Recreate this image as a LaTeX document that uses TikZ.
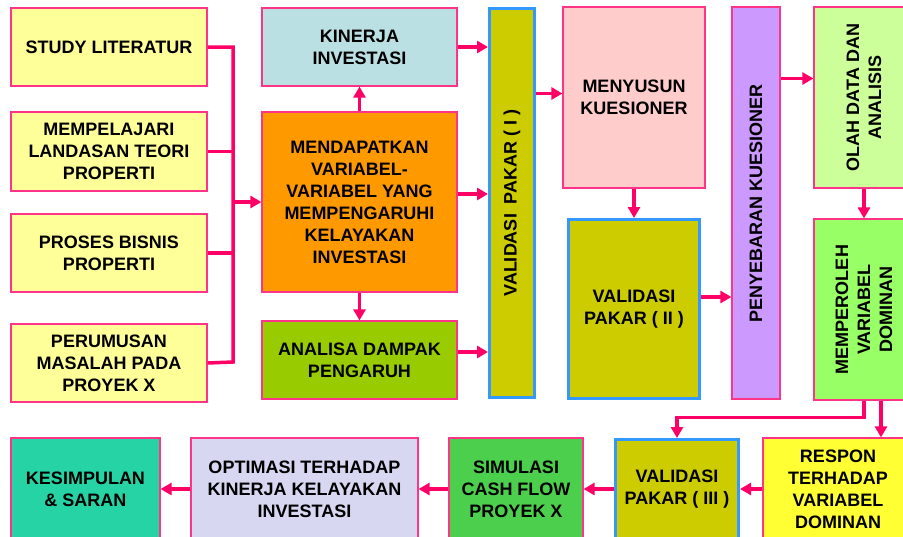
\documentclass[tikz,border=0pt]{standalone}
\usepackage{fontspec}
\setmainfont{Liberation Sans}
\usetikzlibrary{arrows.meta,calc}
\definecolor{cYel}{HTML}{FFFF99}
\definecolor{cKin}{HTML}{BBE0E3}
\definecolor{cOra}{HTML}{FF9900}
\definecolor{cAna}{HTML}{99CC00}
\definecolor{cVal}{HTML}{CCCC00}
\definecolor{cMen}{HTML}{FFCCCC}
\definecolor{cPen}{HTML}{CC99FF}
\definecolor{cOla}{HTML}{CCFF99}
\definecolor{cMem}{HTML}{99FF66}
\definecolor{cRes}{HTML}{FFFF33}
\definecolor{cSim}{HTML}{4CCF4C}
\definecolor{cOpt}{HTML}{D7D7F2}
\definecolor{cKes}{HTML}{26D3A5}
\definecolor{cBord}{HTML}{FF3388}
\definecolor{cBlue}{HTML}{3399FF}
\definecolor{cArr}{HTML}{FF0066}
\tikzset{
  box/.style={draw=cBord, line width=1.2pt, inner sep=0pt, align=center,
    font=\bfseries\fontsize{18}{22}\selectfont, text=black},
  vbox/.style={box, draw=cBlue, line width=3pt},
  rot/.style={rotate=90, inner sep=0pt, align=center,
    font=\bfseries\fontsize{18}{22}\selectfont, text=black},
  conn/.style={draw=cArr, line width=3.5pt, line join=miter},
  arr/.style={conn, -{Triangle[length=11pt,width=12pt]}}
}
\begin{document}
\begin{tikzpicture}[x=1pt,y=-1pt]
\useasboundingbox (0,0) rectangle (903,536);
\clip (0,0) rectangle (903,536);
\fill[white] (0,0) rectangle (903,536);

% left column
\node[box,fill=cYel,minimum width=196pt,minimum height=78pt] (study) at (109,47) {STUDY LITERATUR};
\node[box,fill=cYel,minimum width=196pt,minimum height=79pt] (mempel) at (109,151.5) {MEMPELAJARI\\LANDASAN TEORI\\PROPERTI};
\node[box,fill=cYel,minimum width=196pt,minimum height=78pt] (proses) at (109,253) {PROSES BISNIS\\PROPERTI};
\node[box,fill=cYel,minimum width=196pt,minimum height=78pt] (perumusan) at (109,363) {PERUMUSAN\\MASALAH PADA\\PROYEK X};

% second column
\node[box,fill=cKin,minimum width=195pt,minimum height=78pt] (kinerja) at (359.5,47) {KINERJA\\INVESTASI};
\node[box,fill=cOra,minimum width=195pt,minimum height=180pt] (mendapat) at (359.5,202) {MENDAPATKAN\\VARIABEL-\\VARIABEL YANG\\MEMPENGARUHI\\KELAYAKAN\\INVESTASI};
\node[box,fill=cAna,minimum width=195pt,minimum height=78pt] (analisa) at (359.5,360) {ANALISA DAMPAK\\PENGARUH};

% validasi I
\node[vbox,fill=cVal,minimum width=45pt,minimum height=389pt] (val1) at (512,203) {};
\node[rot] (val1t) at (val1) {VALIDASI\ \ PAKAR ( I )};

% menyusun / validasi II
\node[box,fill=cMen,minimum width=142pt,minimum height=181pt] (menyusun) at (634,97.5) {MENYUSUN\\KUESIONER};
\node[vbox,fill=cVal,minimum width=131pt,minimum height=179pt] (val2) at (634,309) {VALIDASI\\PAKAR ( II )};

% penyebaran
\node[box,fill=cPen,minimum width=48pt,minimum height=392pt] (penyeb) at (756,203) {};
\node[rot] (penyebt) at (penyeb) {PENYEBARAN KUESIONER};

% right column
\node[box,fill=cOla,minimum width=100pt,minimum height=181pt] (olah) at (864,97.5) {};
\node[rot] (olaht) at (olah) {OLAH DATA DAN\\ANALISIS};
\node[box,fill=cMem,minimum width=100pt,minimum height=181pt] (memper) at (864,309.5) {};
\node[rot] (mempert) at (memper) {MEMPEROLEH\\VARIABEL\\DOMINAN};

% bottom row
\node[box,fill=cKes,minimum width=149pt,minimum height=102pt] (kesimp) at (85.5,489) {KESIMPULAN\\\& SARAN};
\node[box,fill=cOpt,minimum width=227pt,minimum height=102pt] (optim) at (304.5,489) {OPTIMASI TERHADAP\\KINERJA KELAYAKAN\\INVESTASI};
\node[box,fill=cSim,minimum width=134pt,minimum height=102pt] (simul) at (516,489) {SIMULASI\\CASH FLOW\\PROYEK X};
\node[vbox,fill=cVal,minimum width=123pt,minimum height=99pt] (val3) at (677,489) {VALIDASI\\PAKAR ( III )};
\node[box,fill=cRes,minimum width=150pt,minimum height=102pt] (respon) at (838,489) {RESPON\\TERHADAP\\VARIABEL\\DOMINAN};

% bus from left column
\coordinate (busT) at (233,47);
\coordinate (busB) at (233,362);
\draw[conn] (study.east) -- (busT) -- (busB) -- (perumusan.east);
\draw[conn] (mempel.east) -- (mempel.east -| busT);
\draw[conn] (proses.east) -- (proses.east -| busT);
\draw[arr] (mendapat.west -| busT) -- (mendapat.west);

% second column arrows
\draw[arr] (mendapat.north) -- (kinerja.south);
\draw[arr] (mendapat.south) -- (analisa.north);
\draw[arr] (kinerja.east) -- (kinerja.east -| val1.west);
\draw[arr] ([yshift=8pt]mendapat.east) -- ([yshift=8pt]mendapat.east -| val1.west);
\draw[arr] ([yshift=8pt]analisa.east) -- ([yshift=8pt]analisa.east -| val1.west);

% upper right
\draw[arr] ([yshift=4pt]menyusun.west -| val1.east) -- ([yshift=4pt]menyusun.west);
\draw[arr] (menyusun.south) -- (val2.north);
\draw[arr] ([yshift=12pt]val2.east) -- ([yshift=12pt]val2.east -| penyeb.west);
\draw[arr] ([yshift=19pt]olah.west -| penyeb.east) -- ([yshift=19pt]olah.west);
\draw[arr] (olah.south) -- (memper.north);

% down to bottom row
\draw[arr] (memper.south) -- ++(0,17) -| (val3.north);
\draw[arr] ([xshift=17pt]memper.south) -- ([xshift=17pt]memper.south |- respon.north);

% bottom row arrows
\draw[arr] (respon.west) -- (val3.east);
\draw[arr] (val3.west) -- (simul.east);
\draw[arr] (simul.west) -- (optim.east);
\draw[arr] (optim.west) -- (kesimp.east);
\end{tikzpicture}
\end{document}
